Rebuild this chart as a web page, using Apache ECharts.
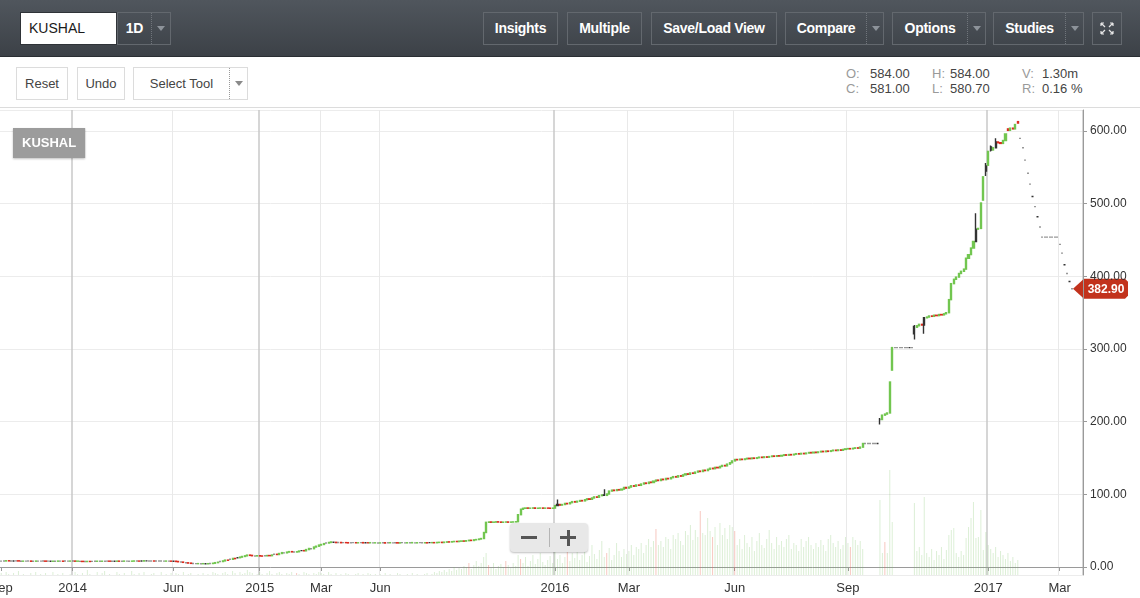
<!DOCTYPE html>
<html>
<head>
<meta charset="utf-8">
<title>KUSHAL</title>
<script src="https://cdn.jsdelivr.net/npm/echarts@6.0.0/dist/echarts.min.js"></script>
<style>
html,body{margin:0;padding:0;background:#fff;}
body{width:1140px;height:598px;overflow:hidden;position:relative;font-family:"Liberation Sans",Arial,Helvetica,sans-serif;}
#chart{position:absolute;left:0;top:0;width:1140px;height:598px;}
.hdr{position:absolute;left:0;top:0;width:1140px;height:56px;background:linear-gradient(#50565d,#3c4147);border-bottom:1px solid #2a2e33;}
.row2{position:absolute;left:0;top:57px;width:1140px;height:50px;background:#fff;border-bottom:1px solid #dcdcdc;}
.box{position:absolute;box-sizing:border-box;}
.sym{left:20px;top:12px;width:97px;height:33px;background:#fff;border:1px solid #2f3338;font-size:14px;color:#1a1a1a;line-height:31px;padding-left:8px;}
.hb{top:12px;height:33px;border:1px solid #63686e;color:#fff;font-weight:bold;font-size:14px;line-height:31px;text-align:center;letter-spacing:-0.3px;}
.hb .t{position:absolute;left:0;top:0;height:31px;text-align:center;}
.sep{position:absolute;top:0;height:31px;border-left:1px dotted #70757b;}
.tri{position:absolute;top:13px;width:0;height:0;border-left:4px solid transparent;border-right:4px solid transparent;border-top:5px solid #8d939a;}
.rb{top:67px;height:33px;border:1px solid #dcdcdc;color:#444;font-size:13px;line-height:31px;text-align:center;background:#fff;}
.rb .sep{border-left:1px dotted #999;}
.rb .tri{border-top-color:#8a8a8a;}
.lab{position:absolute;font-size:13px;color:#9a9a9a;}
.val{position:absolute;font-size:13px;color:#444;}
.zoomctl{position:absolute;left:510px;top:523px;width:78px;height:29px;background:#e8e8e8;border-radius:4px;box-shadow:0 1px 2px rgba(0,0,0,0.25);}
.zoomctl .m{position:absolute;background:#555;}
</style>
</head>
<body>
<div id="chart"></div>

<div class="hdr">
  <div class="box sym">KUSHAL</div>
  <div class="box hb" style="left:117px;width:54px;">
    <span class="t" style="width:33px;">1D</span><span class="sep" style="left:33px;"></span><span class="tri" style="left:39px;"></span>
  </div>
  <div class="box hb" style="left:483px;width:75px;">Insights</div>
  <div class="box hb" style="left:567px;width:75px;">Multiple</div>
  <div class="box hb" style="left:651px;width:126px;">Save/Load View</div>
  <div class="box hb" style="left:785px;width:99px;">
    <span class="t" style="width:80px;">Compare</span><span class="sep" style="left:80px;"></span><span class="tri" style="left:86px;"></span>
  </div>
  <div class="box hb" style="left:892px;width:94px;">
    <span class="t" style="width:74px;">Options</span><span class="sep" style="left:74px;"></span><span class="tri" style="left:80px;"></span>
  </div>
  <div class="box hb" style="left:993px;width:91px;">
    <span class="t" style="width:71px;">Studies</span><span class="sep" style="left:71px;"></span><span class="tri" style="left:77px;"></span>
  </div>
  <div class="box hb" style="left:1092px;width:30px;">
    <svg width="28" height="31" viewBox="0 0 28 31" style="position:absolute;left:0;top:0;">
      <g stroke="#e6e6e6" stroke-width="1.2" fill="none">
        <path d="M8 10 L12 14 M8 10 L8 13 M8 10 L11 10"/>
        <path d="M20 10 L16 14 M20 10 L20 13 M20 10 L17 10"/>
        <path d="M8 21 L12 17 M8 21 L8 18 M8 21 L11 21"/>
        <path d="M20 21 L16 17 M20 21 L20 18 M20 21 L17 21"/>
      </g>
    </svg>
  </div>
</div>

<div class="row2">
  <div class="box rb" style="left:16px;top:10px;width:52px;">Reset</div>
  <div class="box rb" style="left:77px;top:10px;width:48px;">Undo</div>
  <div class="box rb" style="left:133px;top:10px;width:115px;">
    <span class="t" style="position:absolute;left:0;width:95px;text-align:center;">Select Tool</span><span class="sep" style="left:95px;"></span><span class="tri" style="left:101px;"></span>
  </div>
  <span class="lab" style="left:846px;top:9px;">O:</span><span class="val" style="left:870px;top:9px;">584.00</span>
  <span class="lab" style="left:932px;top:9px;">H:</span><span class="val" style="left:950px;top:9px;">584.00</span>
  <span class="lab" style="left:1022px;top:9px;">V:</span><span class="val" style="left:1042px;top:9px;">1.30m</span>
  <span class="lab" style="left:846px;top:24px;">C:</span><span class="val" style="left:870px;top:24px;">581.00</span>
  <span class="lab" style="left:932px;top:24px;">L:</span><span class="val" style="left:950px;top:24px;">580.70</span>
  <span class="lab" style="left:1022px;top:24px;">R:</span><span class="val" style="left:1042px;top:24px;">0.16 %</span>
</div>

<div class="zoomctl">
  <div class="m" style="left:11px;top:13px;width:16px;height:3px;"></div>
  <div style="position:absolute;left:39px;top:5px;width:1px;height:19px;background:#b5b5b5;"></div>
  <div class="m" style="left:50px;top:13px;width:16px;height:3px;"></div>
  <div class="m" style="left:56.5px;top:6.5px;width:3px;height:16px;"></div>
</div>

<script>
// ---- data (one value per trading session, Sep 2013 -> Mar 2017) ----
const closes = [
  // Sep-Dec 2013
  8.1, 8.3, 8.6, 8.4, 8.2, 8.2, 8.5, 8.3, 8.0, 8.1, 8.1, 8.2, 7.9, 8.0, 8.2, 8.1, 8.1, 8.2, 8.0, 8.1,
  7.9, 8.0, 8.0, 8.2, 8.1, 7.9, 8.2, 8.1, 8.2,
  // Jan-May 2014
  8.2, 8.0, 8.1, 7.8, 7.6, 7.5, 7.7, 7.6, 7.8, 7.9, 8.0, 7.9, 8.0, 8.0, 8.1, 8.0, 7.9, 8.0, 8.1, 8.0,
  8.0, 8.2, 8.1, 8.0, 8.1, 8.3, 8.2, 8.1, 8.2, 8.6, 8.4, 8.3, 8.3, 8.2, 8.3, 8.2, 8.2, 8.1, 8.2, 8.1, 8.0,
  // Jun-Dec 2014
  8.0, 7.6, 7.2, 6.8, 6.4, 5.8, 5.4, 5.0, 4.8, 4.6, 4.7, 4.5, 4.6, 4.4, 4.6, 4.8, 5.2, 6.0, 6.6, 7.5,
  8.4, 9.5, 9.3, 10.6, 11.8, 11.5, 12.8, 13.6, 14.5, 15.4, 16.4, 16.0, 15.5, 15.2, 15.6,
  // Jan-Feb 2015
  15.2, 15.0, 15.4, 15.8, 15.6, 16.5, 17.5, 17.2, 18.6, 19.8, 19.5, 20.5, 21.2, 20.8, 20.6, 21.0, 22.0, 22.6, 22.3, 24.0,
  25.5, 25.2, 27.5, 28.6, 30.2,
  // Mar-May 2015
  31.0, 32.2, 33.0, 33.8, 34.5, 34.0, 33.6, 33.8, 33.4, 33.6, 33.5, 33.2, 33.4, 33.5, 33.3, 33.4, 33.6, 33.2, 33.4, 33.3,
  33.5, 33.2, 33.3, 33.1,
  // Jun-Dec 2015
  33.2, 33.4, 33.0, 33.3, 33.5, 33.2, 33.4, 33.1, 33.3, 33.5, 33.2, 33.4, 33.3, 33.6, 33.2, 33.4, 33.5, 33.3, 33.4, 33.2,
  33.5, 33.6, 33.4, 33.8, 34.0, 33.7,
  34.2, 34.6, 34.4, 34.9, 35.2, 35.0, 35.5, 35.8, 35.6,
  36.2, 36.8, 36.5, 37.4, 37.8, 38.5, 39.2,
  47.5, 61.5,
  62.0, 61.6, 61.8, 62.2, 61.9, 61.5, 61.8, 62.0, 61.7, 61.9, 62.1, 62.4,
  72.0, 79.5,
  80.8, 81.2, 80.9, 81.0, 81.3, 80.8, 81.0, 81.2, 80.9, 81.1, 81.0, 80.8, 81.1,
  // Jan-Feb 2016
  84.5, 86.0, 85.2, 86.0, 87.5, 87.0, 88.6, 90.0, 89.4, 90.5, 91.5, 91.0, 92.6, 93.8, 93.2, 95.0, 96.5, 96.0, 98.2, 99.2,
  98.6, 100.5, 104.5, 105.8, 105.2, 106.5, 106.0, 107.2, 109.5, 108.6,
  // Mar-May 2016
  110.0, 111.8, 111.2, 112.9, 112.4, 114.2, 115.6, 115.0, 116.8, 116.3, 118.2, 119.6, 119.0, 120.8, 120.2, 121.9, 121.4, 123.0, 124.4, 123.8,
  125.6, 125.0, 126.8, 128.2, 127.6, 129.4, 128.9, 130.6, 132.0, 131.4, 133.2, 132.7, 134.5, 135.9, 135.3, 137.1, 136.6, 138.4, 139.8, 139.2,
  141.6, 143.5, 146.0,
  // Jun-Aug 2016
  148.0, 147.5, 148.4, 147.9, 148.8, 149.6, 149.1, 150.0, 149.5, 150.4, 151.2, 150.7, 151.6, 151.1, 152.0, 152.8, 152.3, 153.2, 152.7, 153.6,
  154.4, 153.9, 154.8, 154.3, 155.2, 156.0, 155.5, 156.4, 155.9, 156.8, 157.6, 157.1, 158.0, 157.5, 158.4, 159.2, 158.7, 159.6, 159.1, 160.0,
  160.8, 160.3, 161.2, 160.7, 161.8, 162.6,
  // Sep-Dec 2016
  163.0, 162.6, 163.4, 164.0, 163.6, 165.0, 170.0,
  170, 170, 170, 170, 170, 170,
  203, 209, 210.5, 212, 254.6, 302,
  302, 302, 302, 302, 302, 302, 302, 302,
  321,
  332, 334, 333,
  343,
  344, 345.5, 345, 346.5, 346, 347.5, 347, 348.5, 350,
  368, 390,
  396, 399, 404, 407, 410, 425, 430, 439, 448, 465, 466, 501, 537, 545,
  // Jan-Feb 2017
  572, 574, 577, 585, 584, 583, 587, 596, 601, 604, 603, 609, 611,
  590, 577, 560, 542, 527, 510, 496, 482, 468, 454, 454, 454, 454, 454, 454, 454,
  // Mar 2017
  444, 432, 416, 404, 393, 382.9
];

const volumes = [
  2, 0, 3, 1, 0, 2, 0, 4, 0, 1, 0, 0, 2, 0, 3, 0, 1, 0, 2, 0, 0, 3, 0, 1, 0, 2, 0, 0, 1,
  0, 3, 1, 0, 2, 0, 5, 1, 0, 0, 3, 0, 2, 4, 0, 1, 0, 0, 3, 1, 0, 2, 0, 0, 4, 1, 0, 2, 0, 3, 0, 0, 1, 2, 0, 0, 3, 0, 1, 0, 2,
  0, 2, 1, 0, 3, 0, 1, 2, 0, 0, 1, 0, 2, 0, 1, 0, 3, 2, 1, 0, 2, 3, 1, 0, 4, 2, 0, 3, 1, 2, 5, 3, 2, 0, 1,
  3, 1, 0, 2, 4, 1, 0, 2, 3, 1, 0, 2, 1, 3, 0, 2, 1, 0, 3, 2, 1, 0, 2, 1, 3,
  2, 1, 0, 3, 1, 0, 2, 0, 1, 0, 2, 1, 0, 0, 1, 2, 0, 1, 0, 2, 1, 0, 1, 0,
  1, 0, 2, 0, 1, 0, 0, 2, 1, 0, 0, 1, 0, 2, 0, 1, 0, 0, 1, 2, 0, 1, 3, 2, 4, 3,
  5, 3, 6, 4, 8, 5, 7, 6, 9,
  8, 12, 6, 10, 14, 9, 12,
  18, 22,
  10, 7, 12, 6, 9, 11, 8, 14, 10, 7, 12, 9,
  20, 16,
  12, 18, 9, 14, 20, 11, 16, 22, 13, 10, 15, 19, 12,
  24, 16, 20, 12, 18, 26, 14, 22, 17, 28, 15, 20, 24, 13, 19, 30, 21, 16, 25, 34, 18, 22, 27, 15, 20, 32, 24, 18, 26, 21,
  24, 30, 20, 28, 26, 32, 22, 30, 36, 28, 34, 46, 30, 34, 28, 38, 36, 26, 40, 36, 42, 34, 30, 44, 40, 50, 35, 45, 38, 64,
  42, 40, 57, 44, 38, 48, 30, 52, 40, 47, 36, 50, 48,
  44, 30, 36, 26, 40, 32, 28, 38, 24, 34, 42, 30, 27, 36, 45, 32, 26, 38, 30, 34, 28, 36, 40, 26, 32, 30, 24, 36, 28, 34,
  38, 30, 26, 32, 28, 35, 30, 24, 36, 40, 32, 28, 34, 26, 30, 38,
  32, 28, 38, 35, 30, 34, 26,
  0, 0, 0, 0, 0, 0,
  75, 22, 33, 22, 105, 53,
  0, 0, 0, 0, 0, 0, 0, 0,
  72,
  24, 28, 20,
  78,
  22, 18, 26, 15, 24, 20, 28, 16, 25,
  40, 45,
  47, 22, 18, 24, 20, 37, 48, 57, 73, 37, 38, 65, 25, 43,
  30, 26, 22, 28, 18, 24, 20, 16, 22, 14, 18, 12, 15,
  0, 0, 0, 0, 0, 0, 0, 0, 0, 0, 0, 0, 0, 0, 0, 0,
  0, 0, 0, 0, 0, 0
];

// sessions that opened away from the previous close: [session, open]
const gapOpens = [[357, 203], [362, 271], [371, 331], [372, 330], [399, 505], [400, 552], [401, 553], [402, 578], [409, 603], [413, 613]];
// sessions with visible wicks: [session, low, high]
const wicks = [[226, 85, 93], [245, 100, 107], [357, 196, 205], [371, 313, 333], [375, 321, 343], [396, 452, 487], [400, 538, 556], [402, 572, 580], [404, 580, 590]];
// sessions whose volume bar is drawn as a down-volume bar
const volRed = [8, 40, 52, 75, 96, 120, 190, 198, 205, 211, 230, 246, 266, 284, 289, 298, 345, 359];

const tickIdx = [0, 29, 70, 105, 130, 154, 225, 255, 298, 344, 401, 430];
const tickLabels = ['Sep', '2014', 'Jun', '2015', 'Mar', 'Jun', '2016', 'Mar', 'Jun', 'Sep', '2017', 'Mar'];
const symbol = 'KUSHAL';

// ---- build ----
const UP = '#72c650', DOWN = '#dc2b1e', INK = '#333333';
const VUP = 'rgba(120,195,95,0.26)', VDOWN = 'rgba(235,110,90,0.38)';
const padCount = 4;
const N = closes.length + padCount;
const cats = Array.from({length: N}, (_, i) => String(i));
const labelMap = new Map(tickIdx.map((t, k) => [t, tickLabels[k]]));
const yearIdx = new Set(tickIdx.filter((t, k) => /^\d{4}$/.test(tickLabels[k])));
const monthIdx = new Set(tickIdx.filter((t, k) => !/^\d{4}$/.test(tickLabels[k]) && t > 0));
const gapMap = new Map(gapOpens);
const wickMap = new Map(wicks.map(w => [w[0], [w[1], w[2]]]));
const redSet = new Set(volRed);

const candleData = closes.map((c, i) => {
  let o;
  if (gapMap.has(i)) o = gapMap.get(i);
  else if (i === 0 || volumes[i] === 0) o = c;
  else o = closes[i - 1];
  let lo = Math.min(o, c), hi = Math.max(o, c);
  const item = {value: [o, c, lo, hi]};
  if (wickMap.has(i)) {
    const w = wickMap.get(i);
    item.value[2] = Math.min(lo, w[0]);
    item.value[3] = Math.max(hi, w[1]);
    item.itemStyle = {borderColor: INK, borderColor0: INK};
  }
  if (o === c) item.itemStyle = {color: INK, color0: INK, borderColor: INK, borderColor0: INK};
  return item;
});
const volData = volumes.map((v, i) => ({value: v, itemStyle: {color: redSet.has(i) ? VDOWN : VUP}}));

const chart = echarts.init(document.getElementById('chart'), null, {renderer: 'canvas'});
const FONT = '"Liberation Sans", Arial, Helvetica, sans-serif';
chart.setOption({
  animation: false,
  backgroundColor: 'transparent',
  textStyle: {fontFamily: FONT},
  title: {
    text: symbol, left: 13, top: 128,
    backgroundColor: '#9c9c9c', padding: [9, 9, 8, 9],
    shadowColor: 'rgba(0,0,0,0.25)', shadowBlur: 2, shadowOffsetY: 1,
    textStyle: {color: '#fff', fontSize: 13, fontWeight: 'bold', fontFamily: FONT}
  },
  grid: {left: 0, right: 57, top: 110, bottom: 23, containLabel: false, outerBoundsMode: 'none'},
  xAxis: [{
    type: 'category', data: cats, boundaryGap: true, position: 'bottom',
    axisLine: {show: true, lineStyle: {color: '#9a9a9a', width: 1}},
    axisTick: {show: true, alignWithLabel: true, length: 4, interval: (i) => labelMap.has(i), lineStyle: {color: '#9a9a9a'}},
    axisLabel: {show: true, interval: (i) => labelMap.has(i), formatter: (v, i) => labelMap.get(i) || '',
      color: '#333', fontSize: 13, margin: 7, hideOverlap: false, fontFamily: FONT},
    splitLine: {show: true, interval: (i) => monthIdx.has(i), lineStyle: {color: '#e9e9e9', width: 1}}
  }, {
    type: 'category', data: cats, boundaryGap: true, position: 'top',
    axisLine: {show: false}, axisTick: {show: false}, axisLabel: {show: false},
    splitLine: {show: true, interval: (i) => yearIdx.has(i), lineStyle: {color: '#c9c9c9', width: 1.5}}
  }],
  yAxis: [{
    type: 'value', position: 'right', min: -11, max: 629, splitNumber: 6,
    axisLine: {show: true, lineStyle: {color: '#9a9a9a'}},
    axisTick: {show: true, length: 4, lineStyle: {color: '#9a9a9a'}},
    axisLabel: {color: '#333', fontSize: 12, margin: 7, showMinLabel: false, showMaxLabel: false, fontFamily: FONT,
      formatter: (v) => (Math.abs(v % 100) < 1e-6 ? v.toFixed(2) : '')},
    splitLine: {show: true, lineStyle: {color: '#ececec', width: 1}}
  }, {
    type: 'value', min: 0, max: 465, show: false, splitLine: {show: false}
  }],
  series: [{
    name: 'Volume', type: 'bar', xAxisIndex: 0, yAxisIndex: 1, barWidth: 1, silent: true, z: 1,
    data: volData
  }, {
    name: symbol, type: 'candlestick', xAxisIndex: 0, yAxisIndex: 0, barWidth: 1.6, clip: false, z: 3,
    itemStyle: {color: UP, color0: DOWN, borderColor: UP, borderColor0: DOWN, borderWidth: 1.4},
    data: candleData
  }]
});

const last = closes[closes.length - 1];
const py = chart.convertToPixel({yAxisIndex: 0}, last);
chart.setOption({
  graphic: [{
    type: 'group', z: 100,
    children: [{
      type: 'polygon',
      shape: {points: [[1073, py], [1084, py - 10], [1125, py - 10], [1128, py - 7], [1128, py + 7], [1125, py + 10], [1084, py + 10]]},
      style: {fill: '#c2321c'}
    }, {
      type: 'text',
      style: {text: last.toFixed(2), x: 1106, y: py + 0.5, align: 'center', verticalAlign: 'middle', fill: '#fff',
        font: 'bold 12px "Liberation Sans", Arial, sans-serif'}
    }]
  }]
});
</script>
</body>
</html>
